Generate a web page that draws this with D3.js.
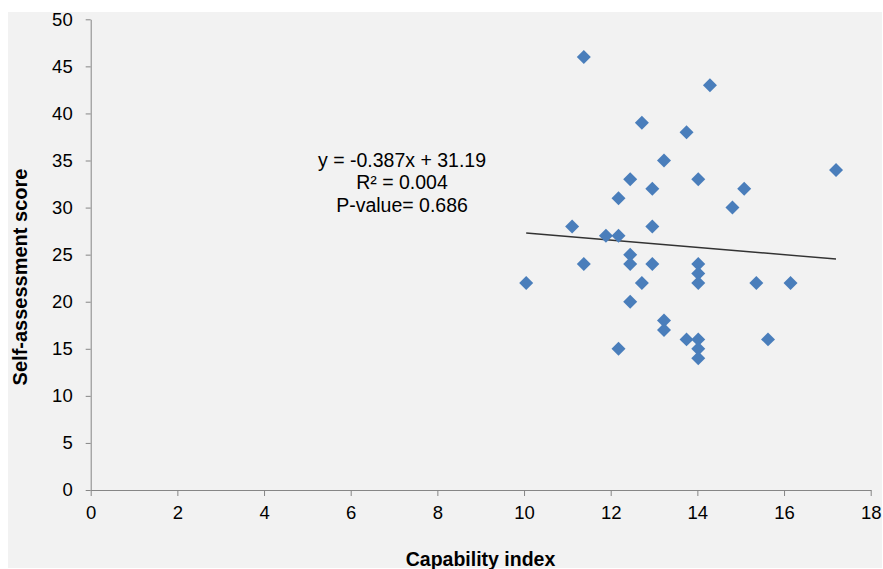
<!DOCTYPE html>
<html>
<head>
<meta charset="utf-8">
<script src="https://cdn.jsdelivr.net/npm/d3@7"></script>
<style>
  body { margin: 0; background: #fff; }
  text { font-family: "Liberation Sans", Arial, sans-serif; }
</style>
</head>
<body>
<div id="chart"></div>
<script>
// capability index vs self-assessment score
let capIndex = [10.05, 11.11, 11.38, 11.38, 11.89, 12.18, 12.18, 12.18, 12.45, 12.45, 12.45, 12.45,
    12.72, 12.72, 12.96, 12.96, 12.96, 13.23, 13.23, 13.23, 13.75, 13.75, 14.02, 14.02,
    14.02, 14.02, 14.02, 14.02, 14.02, 14.29, 14.81, 15.08, 15.36, 15.63, 16.15, 17.2];
let selfScore = [22, 28, 46, 24, 27, 27, 31, 15, 33, 25, 24, 20,
    39, 22, 32, 28, 24, 35, 18, 17, 38, 16, 33, 24,
    23, 22, 16, 15, 14, 43, 30, 32, 22, 16, 22, 34];
let xTicks = [0, 2, 4, 6, 8, 10, 12, 14, 16, 18];
let yTicks = [0, 5, 10, 15, 20, 25, 30, 35, 40, 45, 50];
let trendCoef = [-0.387, 31.19];   // slope, intercept
let trendLabels = ["y = -0.387x + 31.19", "R\u00B2 = 0.004", "P-value= 0.686"];

let W = 883, H = 569;
let margin = { top: 19.3, right: 12.3, bottom: 79, left: 90.7 },
    width = W - margin.left - margin.right,
    height = H - margin.top - margin.bottom;

let svg = d3.select("#chart")
    .append("svg")
    .attr("width", W)
    .attr("height", H);

// grey chart area
svg.append("rect")
    .attr("x", 8).attr("y", 12)
    .attr("width", 874).attr("height", 556)
    .attr("fill", "#f2f2f2");

let g = svg.append("g")
    .attr("transform", "translate(" + margin.left + "," + margin.top + ")");

let x = d3.scaleLinear().domain([0, 18]).range([0, width]);
let y = d3.scaleLinear().domain([0, 50]).range([height, 0]);

let xAxis = g.append("g")
    .attr("transform", "translate(0," + height + ")")
    .call(d3.axisBottom(x).tickValues(xTicks).tickSize(6).tickSizeOuter(0).tickPadding(10));
let yAxis = g.append("g")
    .call(d3.axisLeft(y).tickValues(yTicks).tickSize(5).tickSizeOuter(0).tickPadding(13));

[xAxis, yAxis].forEach(function (a) {
    a.select(".domain").attr("stroke", "#868686");
    a.selectAll(".tick line").attr("stroke", "#868686");
    a.selectAll(".tick text")
        .attr("font-size", "18.5px")
        .attr("font-family", "Liberation Sans, Arial, sans-serif")
        .attr("fill", "#000");
});

// trend line over the data range
let xr = d3.extent(capIndex);
g.append("line")
    .attr("x1", x(xr[0])).attr("y1", y(trendCoef[0] * xr[0] + trendCoef[1]))
    .attr("x2", x(xr[1])).attr("y2", y(trendCoef[0] * xr[1] + trendCoef[1]))
    .attr("stroke", "#333")
    .attr("stroke-width", 1.4);

let diamond = d3.symbol().type(d3.symbolSquare).size(98);
g.selectAll("path.pt")
    .data(capIndex)
    .enter()
    .append("path")
    .attr("class", "pt")
    .attr("d", diamond)
    .attr("transform", function (d, i) {
        return "translate(" + x(d) + "," + y(selfScore[i]) + ") rotate(45)";
    })
    .attr("fill", "#4a7ebb");

// equation text
svg.selectAll("text.eq")
    .data(trendLabels)
    .enter()
    .append("text")
    .attr("class", "eq")
    .attr("x", 402)
    .attr("y", function (d, i) { return 166.5 + i * 22.5; })
    .attr("text-anchor", "middle")
    .attr("font-size", "19.5px")
    .text(function (d) { return d; });

svg.append("text")
    .attr("x", 480.5)
    .attr("y", 566)
    .attr("text-anchor", "middle")
    .attr("font-size", "19.5px")
    .attr("font-weight", "bold")
    .text("Capability index");

svg.append("text")
    .attr("transform", "translate(27,277) rotate(-90)")
    .attr("text-anchor", "middle")
    .attr("font-size", "20px")
    .attr("font-weight", "bold")
    .text("Self-assessment score");
</script>
</body>
</html>
